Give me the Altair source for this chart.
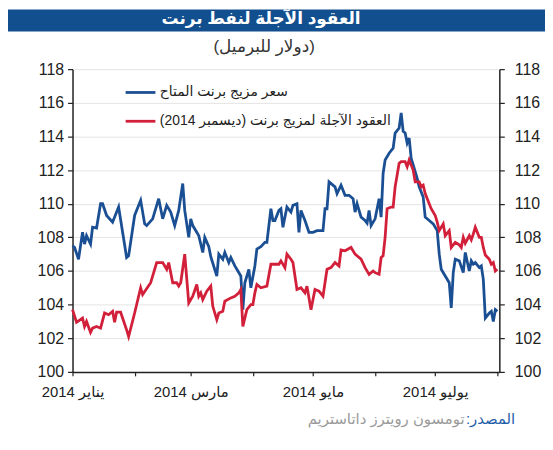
import altair as alt
import pandas as pd

FONT = "Liberation Sans, DejaVu Sans, sans-serif"

title_text = "العقود الآجلة لنفط برنت"
subtitle_text = "\u200f(دولار للبرميل)\u200f"
source_label = "المصدر:\u200f"
source_text = "تومسون رويترز داتاستريم"
series_names = ["سعر مزيج برنت المتاح", "العقود الآجلة لمزيج برنت (ديسمبر 2014)\u200f"]
series_colors = ["#1b4f93", "#d2203b"]
month_numbers = [0, 2, 4, 6]
month_labels = ["يناير 2014", "مارس 2014", "مايو 2014", "يوليو 2014"]
y_ticks = [100, 102, 104, 106, 108, 110, 112, 114, 116, 118]

# days since 1 Jan 2014
spot_day = [0, 1, 3, 5, 6, 7, 9, 10, 12, 14, 15, 17, 20, 23, 25, 27, 28, 31, 34, 36,
            37, 40, 43, 45, 47, 49, 51, 53, 55, 56, 58, 59, 60, 62, 63, 65, 66, 68, 69, 72,
            73, 75, 76, 78, 79, 81, 82, 84, 85, 86, 88, 89, 91, 92, 94, 96, 97, 99, 100, 101,
            103, 104, 105, 107, 109, 110, 112, 113, 114, 116, 118, 120, 122, 125, 126, 127, 128, 131, 132, 134,
            136, 138, 140, 141, 142, 144, 146, 147, 148, 149, 151, 153, 154, 155, 156, 158, 160, 161, 163, 164,
            165, 166, 167, 168, 169, 170, 172, 173, 175, 176, 178, 180, 182, 183, 184, 186, 188, 189, 190, 191,
            193, 195, 196, 198, 199, 200, 201, 203, 204, 205, 206, 208, 209, 210, 211, 212]
spot_value = [107.5, 107.4, 106.7, 108.3, 107.6, 108.1, 107.6, 108.6, 108.55, 110.0, 110.0, 109.3, 108.9, 109.8, 108.3, 106.8, 106.9, 109.3, 110.2, 108.8,
              108.7, 109.1, 110.3, 109.1, 109.9, 109.5, 108.7, 109.6, 111.2, 109.6, 108.0, 109.1, 108.7, 108.3, 108.1, 107.1, 108.0, 107.45, 106.85, 105.7,
              107.0, 106.7, 107.1, 106.5, 106.8, 106.3, 106.1, 105.7, 103.7, 105.3, 106.1, 105.0, 106.3, 107.3, 107.45, 107.7, 107.7, 109.7, 109.0, 109.0,
              109.6, 109.7, 108.6, 109.8, 109.5, 109.9, 110.0, 108.3, 109.6, 109.0, 108.3, 108.3, 108.4, 108.4, 109.7, 109.7, 111.3, 111.0, 110.6, 111.1,
              110.5, 110.5, 110.3, 109.5, 110.0, 109.2, 109.0, 108.85, 109.6, 108.7, 109.1, 110.3, 109.2, 111.8, 112.6, 113.0, 113.3, 114.2, 114.5, 115.4,
              114.3, 114.2, 113.6, 113.9, 112.7, 112.3, 111.5, 111.0, 110.4, 109.2, 109.0, 108.8, 108.4, 107.0, 106.1, 105.7, 105.3, 103.8, 105.9, 106.7,
              106.6, 105.9, 107.1, 106.0, 106.6, 106.4, 106.5, 106.2, 106.3, 105.5, 103.2, 103.5, 103.6, 103.0, 103.7, 103.6]

fut_day = [0, 2, 5, 6, 7, 9, 10, 12, 14, 16, 18, 20, 21, 22, 24, 27, 28, 31, 34, 35,
           39, 42, 45, 47, 48, 50, 52, 53, 54, 56, 58, 60, 62, 63, 64, 65, 67, 69, 70, 72,
           73, 75, 76, 79, 81, 83, 84, 85, 87, 89, 90, 91, 92, 94, 97, 99, 101, 103, 104, 106,
           107, 109, 110, 111, 112, 114, 116, 117, 119, 121, 123, 125, 127, 129, 131, 133, 134, 136, 139, 141,
           144, 146, 148, 150, 151, 153, 154, 155, 156, 157, 159, 160, 161, 163, 164, 166, 167, 168, 170, 171,
           173, 174, 175, 176, 178, 179, 181, 182, 183, 185, 186, 188, 189, 191, 193, 194, 195, 196, 198, 199,
           200, 201, 203, 204, 205, 206, 208, 209, 210, 211, 212]
fut_value = [103.7, 102.95, 103.2, 102.7, 103.0, 102.35, 102.6, 102.7, 102.6, 103.5, 103.4, 103.6, 102.95, 103.55, 103.55, 102.5, 102.1, 103.5, 105.0, 104.6,
             105.3, 106.5, 106.5, 106.1, 106.5, 105.3, 105.3, 105.1, 105.3, 107.0, 104.1, 104.5, 105.2, 104.5, 104.7, 104.3, 104.8, 105.1, 103.9, 103.1,
             103.5, 103.6, 104.2, 104.4, 104.5, 104.7, 104.9, 102.7, 103.7, 104.0, 104.0, 104.7, 105.2, 105.0, 105.1, 106.4, 106.4, 106.4, 106.6, 106.2,
             107.0, 106.7, 106.5, 105.7, 104.9, 105.0, 104.7, 105.1, 103.7, 104.9, 104.8, 104.5, 106.1, 106.2, 106.5, 106.3, 107.25, 107.2, 107.4, 107.0,
             106.7, 106.2, 105.8, 106.0, 105.9, 105.8, 106.8, 106.9, 108.0, 109.7, 109.8, 109.8, 111.0, 112.4, 112.5, 112.5, 112.2, 112.6, 112.0, 111.3,
             111.3, 111.0, 111.1, 110.6, 110.0, 109.7, 109.3, 108.9, 108.4, 108.8, 108.1, 108.4, 107.4, 107.7, 107.55, 107.4, 108.0, 107.65, 108.1, 107.85,
             108.2, 108.6, 108.0, 108.0, 107.4, 106.95, 106.7, 106.4, 106.5, 106.0, 106.1]

assert len(spot_day) == len(spot_value)
assert len(fut_day) == len(fut_value)

start = pd.Timestamp("2014-01-01")


def make_df(days, values, name):
    dates = (start + pd.to_timedelta(days, unit="D")).strftime("%Y-%m-%d")
    return pd.DataFrame({"date": dates, "value": values, "series": name})


df_spot = make_df(spot_day, spot_value, series_names[0])
df_fut = make_df(fut_day, fut_value, series_names[1])

x_ticks = [alt.DateTime(year=2014, month=m, date=1, utc=True) for m in range(1, 9)]
label_expr = " : ".join(
    f"utcmonth(datum.value) == {m} ? '{lab}'" for m, lab in zip(month_numbers, month_labels)
) + " : ''"

x_enc = alt.X(
    "date:T",
    scale=alt.Scale(type="utc",
                    domain=[alt.DateTime(year=2014, month=1, date=1, utc=True),
                            alt.DateTime(year=2014, month=8, date=2, utc=True)]),
    axis=alt.Axis(values=x_ticks, labelExpr=label_expr, title=None, tickSize=4,
                  labelPadding=9, labelFontSize=15, labelColor="#222", domainColor="#222",
                  domainWidth=1.5, tickColor="#222", tickWidth=1.2, grid=False,
                  labelFlush=False, labelOverlap=False, labelFont=FONT),
)

y_scale = alt.Scale(domain=[100, 118], nice=False, zero=False)
left_axis = alt.Axis(values=y_ticks, title=None, tickSize=5, labelPadding=4, labelFontSize=16,
                     labelColor="#222", domainColor="#222", domainWidth=1.5, tickColor="#222",
                     tickWidth=1.2, grid=True, gridColor="#e4e4e4", gridWidth=1, labelFont=FONT)
right_axis = alt.Axis(values=y_ticks, title=None, orient="right", tickSize=5, labelPadding=10,
                      labelFontSize=16, labelColor="#222", domainColor="#222", domainWidth=1.5,
                      tickColor="#222", tickWidth=1.2, grid=False, labelFont=FONT)

color_scale = alt.Scale(domain=series_names, range=series_colors)
legend = alt.Legend(orient="none", legendX=52, legendY=7, title=None, symbolType="stroke",
                    symbolSize=900, symbolStrokeWidth=2.8, labelFontSize=14, labelColor="#222",
                    labelLimit=500, labelOffset=3, rowPadding=5, padding=0, labelFont=FONT)

spot_line = alt.Chart(df_spot).mark_line(strokeWidth=2.8).encode(
    x=x_enc,
    y=alt.Y("value:Q", scale=y_scale, axis=left_axis),
    color=alt.Color("series:N", scale=color_scale, legend=legend),
)
fut_line = alt.Chart(df_fut).mark_line(strokeWidth=2.8).encode(
    x=x_enc,
    y=alt.Y("value:Q", scale=y_scale, axis=right_axis),
    color=alt.Color("series:N", scale=color_scale, legend=legend),
)

title_bar = alt.Chart(pd.DataFrame({"t": [title_text]})).mark_rect(color="#124f8e").encode(
    x=alt.value(-65), x2=alt.value(476), y=alt.value(-60), y2=alt.value(-38)
)
title_mark = alt.Chart(pd.DataFrame({"t": [title_text]})).mark_text(
    font=FONT, fontSize=17, fontWeight="bold", color="white", align="center", baseline="middle"
).encode(text="t:N", x=alt.value(190), y=alt.value(-50))
subtitle_mark = alt.Chart(pd.DataFrame({"t": [subtitle_text]})).mark_text(
    font=FONT, fontSize=17, color="#333", align="center", baseline="middle"
).encode(text="t:N", x=alt.value(193), y=alt.value(-22))
source_label_mark = alt.Chart(pd.DataFrame({"t": [source_label]})).mark_text(
    font=FONT, fontSize=15, color="#1f5ea8", align="right", baseline="middle"
).encode(text="t:N", x=alt.value(446), y=alt.value(353))
source_text_mark = alt.Chart(pd.DataFrame({"t": [source_text]})).mark_text(
    font=FONT, fontSize=15, color="#9a9a9a", align="right", baseline="middle"
).encode(text="t:N", x=alt.value(395), y=alt.value(353))

chart = alt.layer(
    title_bar, title_mark, subtitle_mark, source_label_mark, source_text_mark, spot_line, fut_line
).resolve_scale(y="independent").properties(
    width=430, height=305,
    autosize=alt.AutoSizeParams(type="none"),
    padding={"left": 65, "top": 60, "right": 46, "bottom": 65},
).configure_view(stroke=None)

chart.save("out.html", embed_options={"renderer": "svg", "actions": False})
